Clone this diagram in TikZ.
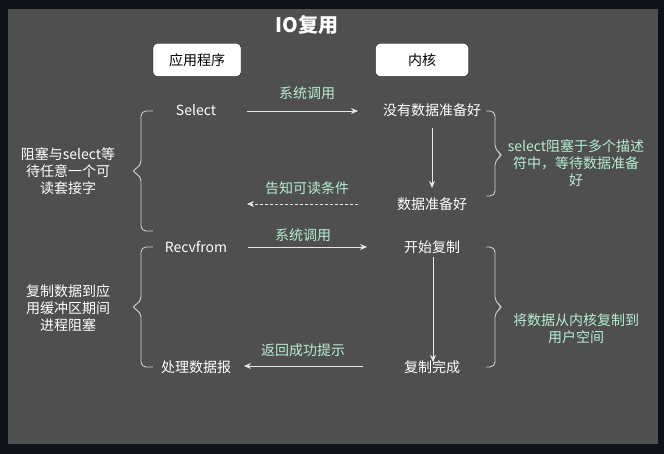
\documentclass[tikz,border=0pt]{standalone}
\usepackage{fontspec}
\setmainfont{Noto Sans CJK SC}
\usetikzlibrary{arrows.meta}
\definecolor{outerbg}{HTML}{0F1218}
\definecolor{panel}{HTML}{4F4F4F}
\definecolor{mint}{HTML}{B6EDD3}
\definecolor{linecol}{HTML}{E6E6E6}
\definecolor{bracecol}{HTML}{D2D2D2}
\tikzset{
  txt/.style={text=white, font=\fontsize{14bp}{17bp}\selectfont, inner sep=0pt, align=center},
  lbl/.style={text=mint, font=\fontsize{14bp}{17bp}\selectfont, inner sep=0pt, align=center},
  hdr/.style={draw=black, fill=white, rounded corners=4bp, text=black, font=\fontsize{14bp}{17bp}\selectfont, minimum height=33bp, inner sep=0pt},
  arr/.style={draw=linecol, line width=0.9bp, -{Stealth[length=7bp,width=6bp]}},
  darr/.style={draw=linecol, line width=0.8bp, dash pattern=on 3bp off 2bp, -{Stealth[length=7bp,width=6bp]}},
  brace/.style={draw=bracecol, line width=0.9bp, rounded corners=5bp}
}
\begin{document}
\begin{tikzpicture}[x=1bp,y=-1bp]
\fill[outerbg] (0,0) rectangle (664,454);
\fill[panel] (8,9) rectangle (658,444);
\useasboundingbox (0,0) rectangle (664,454);

\node[text=white, font=\bfseries\fontsize{20bp}{24bp}\selectfont, inner sep=0pt] (title) at (307,25) {IO复用};
\node[hdr, minimum width=88bp] (app) at (197,60) {应用程序};
\node[hdr, minimum width=93bp] (kern) at (422,60) {内核};

% first phase
\node[txt] (sel) at (196,110) {Select};
\node[txt] (nodata) at (432,110) {没有数据准备好};
\node[txt] (ready) at (432,204) {数据准备好};
\coordinate (a1s) at (247,111);
\coordinate (a1e) at (358,111);
\draw[arr] (a1s) -- (a1e);
\node[lbl] (l1) at (307,93) {系统调用};
\coordinate (v1s) at (432,128);
\coordinate (v1e) at (432,188);
\draw[arr] (v1s) -- (v1e);
\coordinate (d1s) at (358,204);
\coordinate (d1e) at (247,204);
\draw[darr] (d1s) -- (d1e);
\node[lbl] (l2) at (307,188) {告知可读条件};

% braces phase 1
\draw[brace] (153,111) -- (141,111) -- (141,166) -- (131,171) -- (141,176) -- (141,231) -- (153,231);
\draw[brace] (486,111) -- (495,111) -- (495,150) -- (503,155) -- (495,160) -- (495,196) -- (486,196);
\node[txt] (lt1) at (68,171) {阻塞与select等\\待任意一个可\\读套接字};
\node[lbl] (rt1) at (576,163) {select阻塞于多个描述\\符中，等待数据准备\\好};

% second phase
\node[txt] (recv) at (196,247) {Recvfrom};
\node[txt] (startcp) at (432,247) {开始复制};
\node[txt] (donecp) at (432,367) {复制完成};
\node[txt] (proc) at (196,367) {处理数据报};
\coordinate (a2s) at (248,247);
\coordinate (a2e) at (367,247);
\draw[arr] (a2s) -- (a2e);
\node[lbl] (l3) at (303,235) {系统调用};
\coordinate (v2s) at (433,257);
\coordinate (v2e) at (433,362);
\draw[arr] (v2s) -- (v2e);
\coordinate (b2s) at (363,366);
\coordinate (b2e) at (244,366);
\draw[arr] (b2s) -- (b2e);
\node[lbl] (l4) at (303,350) {返回成功提示};

% braces phase 2
\draw[brace] (153,247) -- (141,247) -- (141,302) -- (131,307) -- (141,312) -- (141,367) -- (153,367);
\draw[brace] (486,247) -- (495,247) -- (495,302) -- (503,307) -- (495,312) -- (495,367) -- (486,367);
\node[txt] (lt2) at (68,308) {复制数据到应\\用缓冲区期间\\进程阻塞};
\node[lbl] (rt2) at (576,329) {将数据从内核复制到\\用户空间};
\end{tikzpicture}
\end{document}
